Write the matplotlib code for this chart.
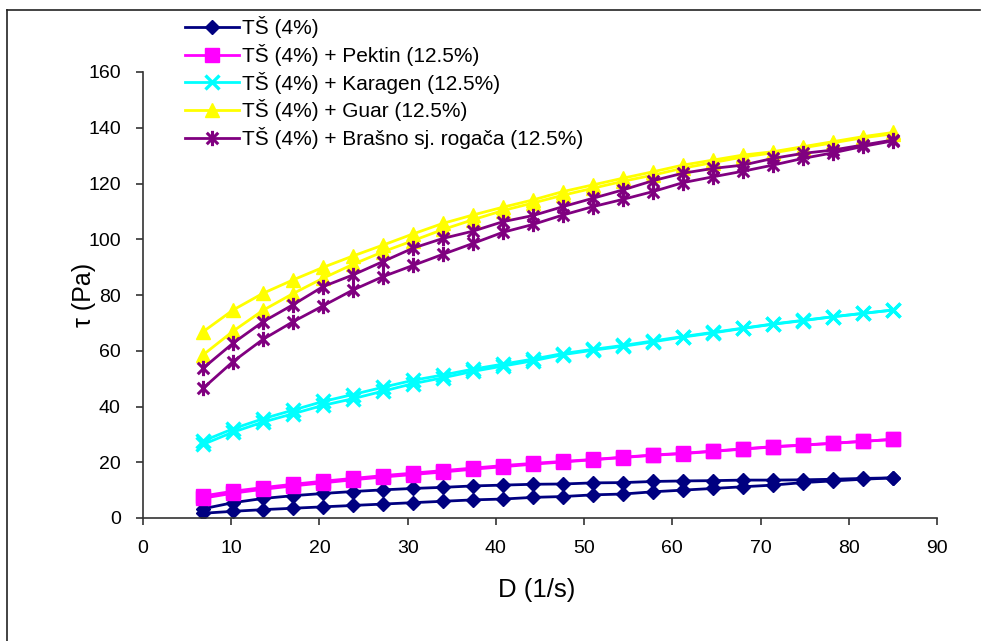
import matplotlib
matplotlib.use("Agg")
import matplotlib.pyplot as plt
from matplotlib.path import Path
from matplotlib.lines import Line2D

plt.rcParams['font.family'] = ['Liberation Sans', 'DejaVu Sans']

# Shear rate D (1/s)
shear_rate = [6.8, 10.2, 13.6, 17.0, 20.4, 23.8, 27.2, 30.6, 34.0, 37.4, 40.8, 44.2,
              47.6, 51.0, 54.4, 57.8, 61.2, 64.6, 68.0, 71.4, 74.8, 78.2, 81.6, 85.0]

labels = ["TŠ (4%)",
          "TŠ (4%) + Pektin (12.5%)",
          "TŠ (4%) + Karagen (12.5%)",
          "TŠ (4%) + Guar (12.5%)",
          "TŠ (4%) + Brašno sj. rogača (12.5%)"]

# shear stress tau (Pa): upper and lower branch of each hysteresis loop
ts_upper = [3.3, 5.5, 7.0, 8.0, 8.8, 9.5, 10.1, 10.6, 11.0, 11.5, 11.8, 12.1,
            12.2, 12.6, 12.7, 13.1, 13.3, 13.4, 13.6, 13.6, 13.7, 13.9, 14.2, 14.4]
ts_lower = [1.7, 2.4, 3.0, 3.5, 4.0, 4.5, 5.0, 5.5, 6.0, 6.5, 6.8, 7.4,
            7.7, 8.3, 8.6, 9.4, 10.0, 10.6, 11.2, 11.8, 12.7, 13.3, 13.9, 14.4]

pektin_upper = [7.9, 9.6, 10.9, 12.1, 13.2, 14.2, 15.2, 16.1, 17.0, 17.9, 18.8, 19.6,
                20.3, 21.0, 21.8, 22.6, 23.2, 24.0, 24.8, 25.6, 26.2, 26.8, 27.5, 28.2]
pektin_lower = [7.1, 8.9, 10.3, 11.5, 12.6, 13.7, 14.7, 15.6, 16.5, 17.5, 18.4, 19.3,
                20.1, 20.9, 21.7, 22.5, 23.1, 23.9, 24.7, 25.5, 26.1, 26.8, 27.5, 28.2]

karagen_upper = [27.6, 32.0, 35.6, 38.7, 41.8, 44.3, 46.9, 49.4, 51.3, 53.4, 55.2, 57.0,
                 59.0, 60.5, 61.9, 63.5, 65.1, 66.6, 68.1, 69.6, 70.9, 72.2, 73.4, 74.6]
karagen_lower = [26.4, 30.8, 34.4, 37.4, 40.4, 42.8, 45.5, 48.2, 50.3, 52.6, 54.5, 56.4,
                 58.6, 60.2, 61.6, 63.2, 64.9, 66.4, 68.0, 69.5, 70.8, 72.2, 73.4, 74.6]

guar_upper = [66.8, 74.6, 80.6, 85.4, 89.9, 94.0, 97.9, 101.9, 105.7, 108.7, 111.5, 114.1,
              117.1, 119.5, 121.9, 124.2, 126.6, 128.4, 130.2, 131.4, 133.2, 135.0, 136.8, 138.3]
guar_lower = [58.5, 67.0, 74.5, 80.5, 86.0, 91.0, 95.5, 99.5, 103.5, 107.0, 110.3, 113.0,
              115.8, 118.3, 120.8, 123.0, 125.5, 127.5, 129.5, 131.0, 132.8, 134.6, 136.4, 137.8]

rogac_upper = [53.7, 62.7, 70.4, 76.5, 83.0, 87.2, 92.0, 96.8, 100.3, 102.9, 106.3, 108.5,
               111.7, 114.7, 117.7, 121.0, 123.7, 125.4, 126.6, 129.0, 130.8, 132.0, 133.8, 135.6]
rogac_lower = [46.5, 56.1, 64.1, 70.4, 76.1, 81.8, 86.6, 90.6, 94.6, 98.5, 102.5, 105.3,
               108.7, 111.7, 114.3, 117.1, 120.3, 122.4, 124.4, 126.6, 129.0, 131.0, 133.3, 135.3]

series_upper = [ts_upper, pektin_upper, karagen_upper, guar_upper, rogac_upper]
series_lower = [ts_lower, pektin_lower, karagen_lower, guar_lower, rogac_lower]

# asterisk marker: x plus vertical bar
ast = Path([(0, -1), (0, 1), (-0.75, -0.75), (0.75, 0.75), (-0.75, 0.75), (0.75, -0.75)],
           [Path.MOVETO, Path.LINETO, Path.MOVETO, Path.LINETO, Path.MOVETO, Path.LINETO])

styles = [
    dict(color='#000080', marker='D', ms=7.5, mfc='#000080', mec='#000080', mew=1),
    dict(color='#FF00FF', marker='s', ms=10, mfc='#FF00FF', mec='#FF00FF', mew=1),
    dict(color='#00FFFF', marker='x', ms=10.5, mec='#00FFFF', mew=2.4),
    dict(color='#FFFF00', marker='^', ms=10.5, mfc='#FFFF00', mec='#FFFF00', mew=1),
    dict(color='#800080', marker=ast, ms=11, mfc='none', mec='#800080', mew=2.2),
]

fig = plt.figure(figsize=(9.87, 6.41), dpi=100)
ax = fig.add_axes([143/987, 1-518/641, (937-143)/987, (518-72)/641])

handles = []
for lab, up, lo, st in zip(labels, series_upper, series_lower, styles):
    ax.plot(shear_rate, lo, lw=2, **st)
    h, = ax.plot(shear_rate, up, lw=2, label=lab, **st)
    handles.append(h)

ax.set_xlim(0, 90)
ax.set_ylim(0, 160)
ax.set_xticks(range(0, 91, 10))
ax.set_yticks(range(0, 161, 20))
for s in ['top', 'right']:
    ax.spines[s].set_visible(False)
for s in ['left', 'bottom']:
    ax.spines[s].set_color('#333333')
    ax.spines[s].set_linewidth(1.2)
ax.tick_params(direction='out', length=5, width=1.2, labelsize=14, color='#333333')
ax.tick_params(axis='x', pad=11)
ax.tick_params(axis='y', pad=11)
ax.set_xlabel("D (1/s)", fontsize=18.5)
ax.set_ylabel("τ (Pa)", fontsize=18)
ax.xaxis.set_label_coords(0.496, -0.161)
ax.xaxis.label.set_va('center')
ax.yaxis.set_label_coords(-0.074, 0.5)
ax.yaxis.label.set_va('center')

fig.legend(handles=handles, labels=labels, loc='upper left',
           bbox_to_anchor=(177/987, 1-8/641), frameon=False, fontsize=15,
           handlelength=2.6, handletextpad=0.1, labelspacing=0.27, borderaxespad=0)

# outer frame lines (left and top)
fig.add_artist(Line2D([7/987, 7/987], [0, 1-10/641], color='#222222', lw=1.2,
                      transform=fig.transFigure))
fig.add_artist(Line2D([7/987, 980/987], [1-10/641, 1-10/641], color='#222222', lw=1.2,
                      transform=fig.transFigure))

fig.savefig("out.png", dpi=100)
